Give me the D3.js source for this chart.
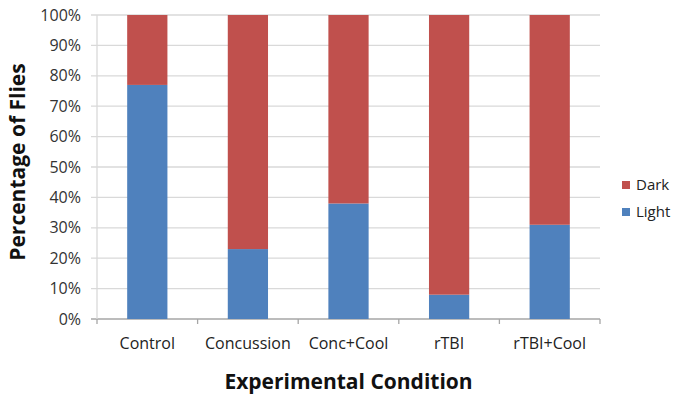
<!DOCTYPE html>
<html><head><meta charset="utf-8">
<script src="https://cdn.jsdelivr.net/npm/d3@7"></script>
<style>body{margin:0;background:#fff;}svg{display:block;font-family:"Open Sans",sans-serif;}</style>
</head><body>
<svg id="c" width="681" height="402"></svg>
<script>
const categories = ["Control","Concussion","Conc+Cool","rTBI","rTBI+Cool"];
const lightValues = [77, 23, 38, 8, 31];
const darkValues = [23, 77, 62, 92, 69];
const yTicks = [0,10,20,30,40,50,60,70,80,90,100];
const seriesNames = ["Dark","Light"];
const colors = {Light:"#4F81BD", Dark:"#C0504D"};

const svg = d3.select("#c");
const m = {left:97, right:600, top:15, bottom:319};
const x = d3.scaleBand().domain(categories).range([m.left, m.right]).paddingInner(0.6).paddingOuter(0.3);
const y = d3.scaleLinear().domain([0,100]).range([m.bottom, m.top]);

// gridlines
svg.append("g").selectAll("line").data(yTicks).join("line")
  .attr("x1", m.left-6).attr("x2", m.right)
  .attr("y1", d=>y(d)).attr("y2", d=>y(d))
  .attr("stroke", d=> d===0 ? "#a6a6a6" : "#d9d9d9").attr("stroke-width",1.3);

// y axis line
svg.append("line").attr("x1",m.left).attr("x2",m.left).attr("y1",m.top).attr("y2",m.bottom).attr("stroke","#d9d9d9").attr("stroke-width",1.3);

// x ticks
const bounds = categories.map((c,i)=> m.left + i*(m.right-m.left)/categories.length).concat([m.right]);
svg.append("g").selectAll("line").data(bounds).join("line")
  .attr("x1",d=>d).attr("x2",d=>d).attr("y1",m.bottom).attr("y2",m.bottom+5)
  .attr("stroke","#a6a6a6").attr("stroke-width",1.3);

// y tick labels
svg.append("g").selectAll("text").data(yTicks).join("text")
  .attr("x", m.left-16).attr("y", d=>y(d)).attr("dy","0.35em")
  .attr("text-anchor","end").attr("font-size",16).attr("fill","#333")
  .text(d=>d+"%");

// bars
const stacked = categories.map((c,i)=>({c, light:lightValues[i], dark:darkValues[i]}));
const g = svg.append("g");
g.selectAll("rect.light").data(stacked).join("rect").attr("class","light")
  .attr("x", d=>x(d.c)).attr("width", x.bandwidth())
  .attr("y", d=>y(d.light)).attr("height", d=>y(0)-y(d.light))
  .attr("fill", colors.Light);
g.selectAll("rect.dark").data(stacked).join("rect").attr("class","dark")
  .attr("x", d=>x(d.c)).attr("width", x.bandwidth())
  .attr("y", d=>y(d.light+d.dark)).attr("height", d=>y(d.light)-y(d.light+d.dark))
  .attr("fill", colors.Dark);

// x labels
svg.append("g").selectAll("text").data(categories).join("text")
  .attr("x", d=>x(d)+x.bandwidth()/2).attr("y", 349)
  .attr("text-anchor","middle").attr("font-size",16).attr("fill","#222")
  .text(d=>d);

// axis titles
svg.append("text").attr("x",(m.left+m.right)/2).attr("y",389).attr("text-anchor","middle")
  .attr("font-size",21).attr("font-weight","bold").attr("fill","#111").text("Experimental Condition");
svg.append("text").attr("transform","translate(25,162) rotate(-90)").attr("text-anchor","middle")
  .attr("font-size",21).attr("font-weight","bold").attr("fill","#111").text("Percentage of Flies");

// legend
const leg = svg.append("g").selectAll("g").data(seriesNames).join("g")
  .attr("transform",(d,i)=>`translate(622,${181+i*27})`);
leg.append("rect").attr("width",8).attr("height",8).attr("fill",d=>colors[d]);
leg.append("text").attr("x",14).attr("y",4).attr("dy","0.35em").attr("font-size",15).attr("fill","#222").text(d=>d);
</script>
</body></html>
